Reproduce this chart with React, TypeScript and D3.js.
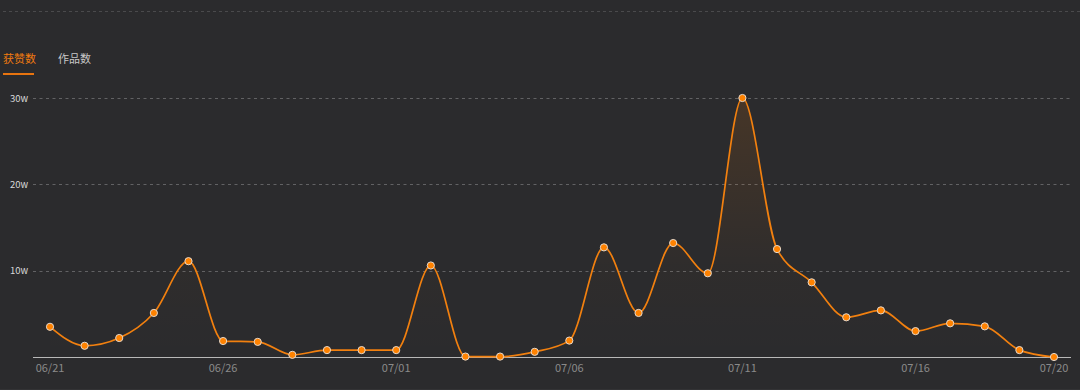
import React, { useEffect, useRef } from "react"
import * as d3 from "d3"

// 日期
const dates = [
  "06/21", "06/22", "06/23", "06/24", "06/25", "06/26", "06/27", "06/28", "06/29", "06/30",
  "07/01", "07/02", "07/03", "07/04", "07/05", "07/06", "07/07", "07/08", "07/09", "07/10",
  "07/11", "07/12", "07/13", "07/14", "07/15", "07/16", "07/17", "07/18", "07/19", "07/20",
]
// 获赞数，单位 w
const likes = [
  3.5, 1.3, 2.2, 5.1, 11.1, 1.85, 1.75, 0.25, 0.8, 0.8,
  0.8, 10.6, 0.05, 0.05, 0.6, 1.9, 12.7, 5.1, 13.2, 9.7,
  30, 12.5, 8.65, 4.6, 5.4, 3.0, 3.9, 3.55, 0.8, 0.0,
]
const yTicks = [10, 20, 30]
const xTicks = ["06/21", "06/26", "07/01", "07/06", "07/11", "07/16", "07/20"]
const tabs = ["获赞数", "作品数"]

const W = 1080
const H = 390
const font = "'Microsoft YaHei', 'Noto Sans CJK SC', 'Noto Sans', sans-serif"

export default function App() {
  const ref = useRef<SVGSVGElement>(null)

  useEffect(() => {
    const svg = d3.select(ref.current)
    svg.selectAll("*").remove()

    const x = d3.scalePoint().domain(dates).range([50, 1054])
    const y = d3.scaleLinear().domain([0, 30]).range([357, 98])

    svg.append("rect").attr("width", W).attr("height", H).attr("fill", "#2b2b2d")

    // 顶部虚线
    svg.append("line")
      .attr("x1", 3).attr("x2", W).attr("y1", 11.5).attr("y2", 11.5)
      .attr("stroke", "#4a4a4c").attr("stroke-dasharray", "3,3")

    // tabs
    svg.append("text").text(tabs[0])
      .attr("x", 3).attr("y", 63).attr("fill", "#f27b0f")
      .attr("font-size", 11).attr("font-family", font)
    svg.append("rect").attr("x", 3).attr("y", 73).attr("width", 31).attr("height", 2).attr("fill", "#e8740f")
    svg.append("text").text(tabs[1])
      .attr("x", 58).attr("y", 63).attr("fill", "#c8c8c8")
      .attr("font-size", 11).attr("font-family", font)

    const defs = svg.append("defs")
    const grad = defs.append("linearGradient").attr("id", "area").attr("x1", 0).attr("y1", 0).attr("x2", 0).attr("y2", 1)
    grad.append("stop").attr("offset", "0%").attr("stop-color", "#ff7f00").attr("stop-opacity", 0.13)
    grad.append("stop").attr("offset", "65%").attr("stop-color", "#ff7f00").attr("stop-opacity", 0.02)
    grad.append("stop").attr("offset", "100%").attr("stop-color", "#ff7f00").attr("stop-opacity", 0)

    // 网格
    svg.append("g").selectAll("line").data(yTicks).join("line")
      .attr("x1", 33).attr("x2", 1071)
      .attr("y1", d => Math.round(y(d)) + 0.5).attr("y2", d => Math.round(y(d)) + 0.5)
      .attr("stroke", "#626264").attr("stroke-dasharray", "3,3.5")

    svg.append("g").selectAll("text").data(yTicks).join("text")
      .text(d => d + "w")
      .attr("x", 10).attr("y", d => y(d) + 3.5)
      .attr("fill", "#d8d8d8").attr("font-size", 9.5).attr("font-family", font)

    const pts = dates.map((d, i) => [x(d)!, y(likes[i])] as [number, number])

    const area = d3.area<[number, number]>()
      .x(d => d[0]).y0(y(0)).y1(d => d[1]).curve(d3.curveMonotoneX)
    svg.append("path").attr("d", area(pts)).attr("fill", "url(#area)")

    // x 轴线
    svg.append("line").attr("x1", 33).attr("x2", 1071).attr("y1", 357.5).attr("y2", 357.5)
      .attr("stroke", "#b8b8b8")

    svg.append("g").selectAll("text").data(xTicks).join("text")
      .text(d => d)
      .attr("x", d => x(d)!).attr("y", 372).attr("text-anchor", "middle")
      .attr("fill", "#8a8a8a").attr("font-size", 11).attr("font-family", font)

    const line = d3.line<[number, number]>().x(d => d[0]).y(d => d[1]).curve(d3.curveMonotoneX)
    svg.append("path").attr("d", line(pts)).attr("fill", "none")
      .attr("stroke", "#f2800f").attr("stroke-width", 1.7)

    svg.append("g").selectAll("circle").data(pts).join("circle")
      .attr("cx", d => d[0]).attr("cy", d => d[1]).attr("r", 3.6)
      .attr("fill", "#ff8200").attr("stroke", "#e6d9cc").attr("stroke-width", 1)

    svg.append("line").attr("x1", 0).attr("x2", W).attr("y1", 389.5).attr("y2", 389.5)
      .attr("stroke", "#333335")
  }, [])

  return (
    <div style={{ position: "fixed", left: 0, top: 0 }}>
      <svg ref={ref} width={W} height={H} style={{ display: "block" }} />
    </div>
  )
}
